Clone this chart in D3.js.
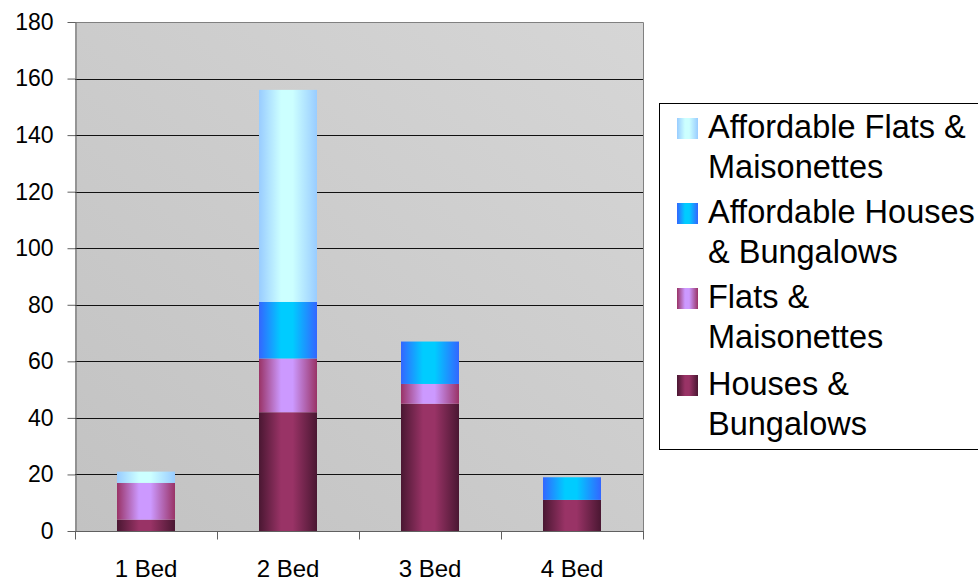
<!DOCTYPE html>
<html>
<head>
<meta charset="utf-8">
<script src="https://cdn.jsdelivr.net/npm/d3@7"></script>
<style>
  html, body { margin: 0; padding: 0; background: #fff; }
  svg { display: block; font-family: "Liberation Sans", Arial, sans-serif; }
</style>
</head>
<body>
<svg id="chart" width="978" height="581"></svg>
<script>
const categories = ["1 Bed", "2 Bed", "3 Bed", "4 Bed"];
const housesBungalows = [4, 42, 45, 11];
const flatsMaisonettes = [13, 19, 7, 0];
const affordableHouses = [0, 20, 15, 8];
const affordableFlats = [4, 75, 0, 0];
const yTicks = [0, 20, 40, 60, 80, 100, 120, 140, 160, 180];

const seriesNames = ["Houses & Bungalows", "Flats & Maisonettes", "Affordable Houses & Bungalows", "Affordable Flats & Maisonettes"];
const seriesValues = [housesBungalows, flatsMaisonettes, affordableHouses, affordableFlats];
const legendLines = [
  ["Affordable Flats &", "Maisonettes"],
  ["Affordable Houses", "& Bungalows"],
  ["Flats &", "Maisonettes"],
  ["Houses &", "Bungalows"]
];
const gradColors = [
  ["#4a1732", "#993366"],
  ["#993366", "#cc99ff"],
  ["#3366ff", "#00ccff"],
  ["#99ccff", "#ccffff"]
];

const svg = d3.select("#chart");
const plot = { left: 75, right: 643, top: 22, bottom: 531 };

const defs = svg.append("defs");
const bg = defs.append("linearGradient").attr("id", "bg")
  .attr("x1", "100%").attr("y1", "0%").attr("x2", "0%").attr("y2", "100%");
bg.append("stop").attr("offset", "0%").attr("stop-color", "#d6d6d6");
bg.append("stop").attr("offset", "100%").attr("stop-color", "#c2c2c2");

gradColors.forEach((c, i) => {
  const g = defs.append("linearGradient").attr("id", "g" + i)
    .attr("x1", "0%").attr("y1", "0%").attr("x2", "100%").attr("y2", "0%");
  g.append("stop").attr("offset", "0%").attr("stop-color", c[0]);
  g.append("stop").attr("offset", "38%").attr("stop-color", c[1]);
  g.append("stop").attr("offset", "58%").attr("stop-color", c[1]);
  g.append("stop").attr("offset", "100%").attr("stop-color", c[0]);
});

const x = d3.scaleBand().domain(categories).range([plot.left, plot.right]).padding(0);
const y = d3.scaleLinear().domain([0, 180]).range([plot.bottom, plot.top]);

// plot background
svg.append("rect")
  .attr("x", plot.left).attr("y", plot.top)
  .attr("width", plot.right - plot.left).attr("height", plot.bottom - plot.top)
  .attr("fill", "url(#bg)");

// gridlines
svg.append("g").selectAll("line").data(yTicks.filter(t => t > 0 && t < 180)).join("line")
  .attr("x1", plot.left).attr("x2", plot.right)
  .attr("y1", d => Math.round(y(d)) + 0.5).attr("y2", d => Math.round(y(d)) + 0.5)
  .attr("stroke", "#111").attr("stroke-width", 1);

// top and right border
svg.append("path")
  .attr("d", `M${plot.left},${plot.top + 0.5}H${plot.right + 0.5}V${plot.bottom}`)
  .attr("fill", "none").attr("stroke", "#808080").attr("stroke-width", 1);

// stacked bars
const barW = 58;
const data = categories.map((c, i) => {
  const o = { cat: c };
  seriesValues.forEach((s, j) => o["s" + j] = s[i]);
  return o;
});
const stack = d3.stack().keys(seriesValues.map((s, j) => "s" + j));
const stacked = stack(data);
svg.append("g").selectAll("g").data(stacked).join("g")
  .attr("fill", (d, i) => `url(#g${i})`)
  .selectAll("rect").data(d => d.filter(p => p[1] > p[0])).join("rect")
  .attr("x", d => x(d.data.cat) + (x.bandwidth() - barW) / 2)
  .attr("width", barW)
  .attr("y", d => y(d[1]))
  .attr("height", d => y(d[0]) - y(d[1]));

// y axis
const yAxis = svg.append("g").attr("transform", `translate(${plot.left + 0.5},0)`)
  .call(d3.axisLeft(y).tickValues(yTicks).tickSize(8).tickPadding(14).tickSizeOuter(0));
yAxis.select(".domain").attr("stroke", "#606060");
yAxis.selectAll(".tick line").attr("stroke", "#606060");
yAxis.selectAll(".tick text").attr("font-size", 23).attr("fill", "#000")
  .attr("font-family", "Liberation Sans, Arial, sans-serif");

// x axis
const xAxis = svg.append("g").attr("transform", `translate(0,${plot.bottom + 0.5})`);
xAxis.append("line").attr("x1", plot.left).attr("x2", plot.right + 1)
  .attr("stroke", "#606060");
const bounds = categories.map(c => x(c)).concat([x(categories[categories.length - 1]) + x.bandwidth()]);
xAxis.selectAll("line.tk").data(bounds).join("line").attr("class", "tk")
  .attr("x1", d => Math.round(d) + 0.5).attr("x2", d => Math.round(d) + 0.5)
  .attr("y1", 0).attr("y2", 8).attr("stroke", "#606060");
xAxis.selectAll("text").data(categories).join("text")
  .attr("x", d => x(d) + x.bandwidth() / 2)
  .attr("y", 45)
  .attr("text-anchor", "middle")
  .attr("font-size", 24)
  .attr("fill", "#000")
  .text(d => d);

// legend
const leg = svg.append("g");
leg.append("rect").attr("x", 659.5).attr("y", 103.5).attr("width", 340).attr("height", 346)
  .attr("fill", "#fff").attr("stroke", "#000").attr("stroke-width", 1);
const baselines = [[138, 178], [223, 263], [308, 348], [395, 435]];
const legendSeries = [3, 2, 1, 0];
legendLines.forEach((lines, k) => {
  const si = legendSeries[k];
  leg.append("rect").attr("x", 677).attr("y", baselines[k][0] - 20)
    .attr("width", 21).attr("height", 21).attr("fill", `url(#g${si})`);
  lines.forEach((t, li) => {
    leg.append("text").attr("x", 708).attr("y", baselines[k][li])
      .attr("font-size", 32.5).attr("fill", "#000").text(t);
  });
});
</script>
</body>
</html>
